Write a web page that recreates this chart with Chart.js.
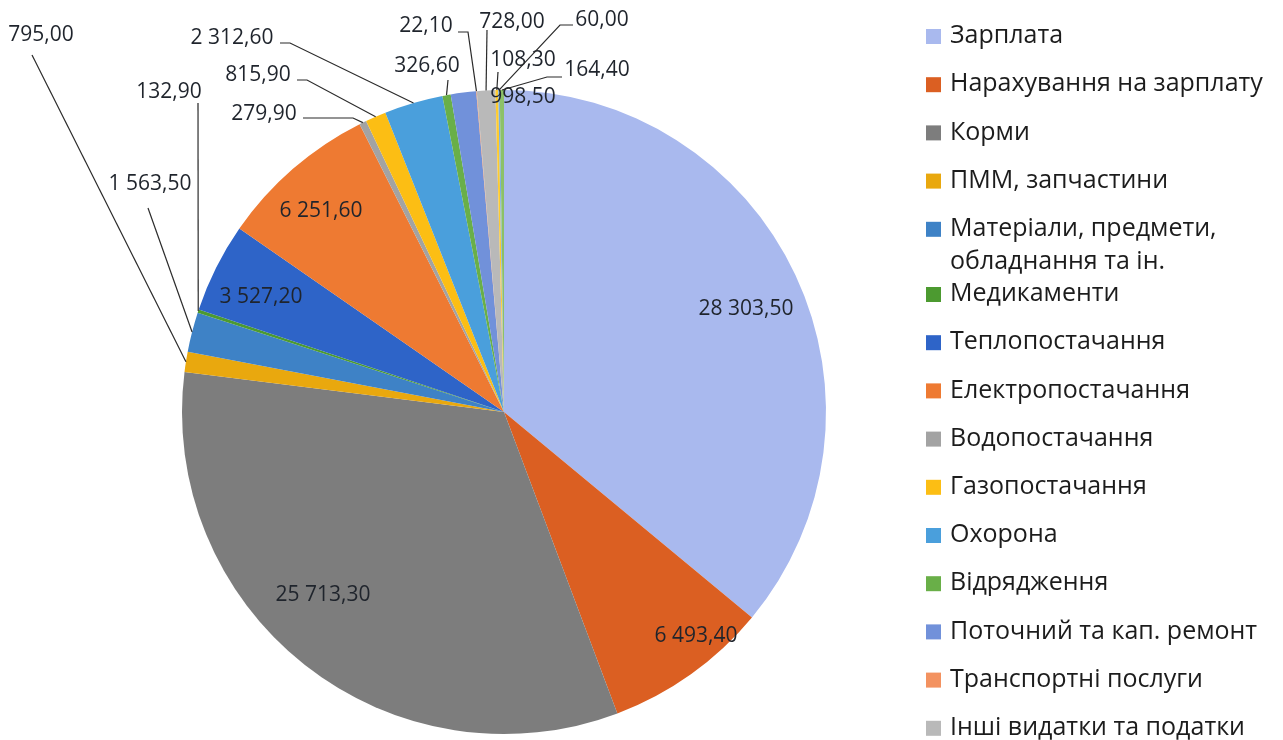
<!DOCTYPE html>
<html>
<head>
<meta charset="utf-8">
<script src="https://cdn.jsdelivr.net/npm/chart.js@4/dist/chart.umd.min.js"></script>
<style>
html,body{margin:0;padding:0;background:#fff;overflow:hidden;}
#wrap{width:1283px;height:740px;position:relative;}
</style>
</head>
<body>
<div id="wrap"><canvas id="c" width="1283" height="740"></canvas></div>
<script>
// ---- data ----
const categories = [
  'Зарплата',
  'Нарахування на зарплату',
  'Корми',
  'ПММ, запчастини',
  ['Матеріали, предмети,', 'обладнання та ін.'],
  'Медикаменти',
  'Теплопостачання',
  'Електропостачання',
  'Водопостачання',
  'Газопостачання',
  'Охорона',
  'Відрядження',
  'Поточний та кап. ремонт',
  'Транспортні послуги',
  'Інші видатки та податки',
  'Інше (16)',
  'Інше (17)',
  'Інше (18)'
];
const values = [28303.5, 6493.4, 25713.3, 795.0, 1563.5, 132.9, 3527.2, 6251.6, 279.9, 815.9, 2312.6, 326.6, 998.5, 22.1, 728.0, 108.3, 60.0, 164.4];
const colors = ['#A9B9EE', '#DB5F22', '#7D7D7D', '#E9A80E', '#3E82C6', '#4C9A30', '#2E64C8', '#EE7A32', '#A3A3A3', '#FCBE14', '#4A9FDC', '#69AF48', '#7191DA', '#F39260', '#B9B9B9', '#FFCB2E', '#7CAFDD', '#8CC168'];

// label layout: text centre offset from pie centre; optional leader start / elbow
const labelLayout = [
  {dx: 242, dy: -103},
  {dx: 192, dy: 224},
  {dx: -181, dy: 183},
  {dx: -463, dy: -377, lead: [[-472, -357]]},
  {dx: -354, dy: -228, lead: [[-356, -204]]},
  {dx: -335, dy: -320, lead: [[-306, -309]]},
  {dx: -243, dy: -115},
  {dx: -183, dy: -201},
  {dx: -240, dy: -298, lead: [[-201, -294], [-151, -294]]},
  {dx: -246, dy: -337, lead: [[-207, -332], [-197, -332]]},
  {dx: -272, dy: -374, lead: [[-224, -369], [-214, -369]]},
  {dx: -77, dy: -346, lead: [[-56, -332]]},
  {dx: 19, dy: -315},
  {dx: -78, dy: -386, lead: [[-46, -380], [-36, -380]]},
  {dx: 8, dy: -390, lead: [[-17, -382]]},
  {dx: 19, dy: -352, lead: [[-6, -340]]},
  {dx: 98, dy: -392, lead: [[69, -387], [56, -387]]},
  {dx: 93, dy: -342, lead: [[58, -335], [43, -335]]}
];

function fmt(v) {
  const parts = v.toFixed(2).split('.');
  const int = parts[0].replace(/\B(?=(\d{3})+(?!\d))/g, ' ');
  return int + ',' + parts[1];
}

const FONT = '"Open Sans", "DejaVu Sans", sans-serif';

const sliceLabels = {
  id: 'sliceLabels',
  afterDatasetsDraw(chart) {
    const ctx = chart.ctx;
    const meta = chart.getDatasetMeta(0);
    ctx.save();
    meta.data.forEach((arc, i) => {
      const p = arc.getProps(['x', 'y', 'startAngle', 'endAngle', 'outerRadius'], true);
      const L = labelLayout[i];
      if (!L) return;
      const cx = p.x, cy = p.y;
      if (L.lead) {
        const mid = (p.startAngle + p.endAngle) / 2;
        const ex = cx + Math.cos(mid) * p.outerRadius;
        const ey = cy + Math.sin(mid) * p.outerRadius;
        ctx.beginPath();
        ctx.strokeStyle = '#2b2b2b';
        ctx.lineWidth = 1.2;
        ctx.moveTo(cx + L.lead[0][0], cy + L.lead[0][1]);
        for (let k = 1; k < L.lead.length; k++) ctx.lineTo(cx + L.lead[k][0], cy + L.lead[k][1]);
        ctx.lineTo(ex, ey);
        ctx.stroke();
      }
      ctx.fillStyle = '#1f242c';
      ctx.font = '21px ' + FONT;
      ctx.textAlign = 'center';
      ctx.textBaseline = 'middle';
      ctx.fillText(fmt(values[i]), cx + L.dx, cy + L.dy);
    });
    ctx.restore();
  }
};

const sideLegend = {
  id: 'sideLegend',
  afterDraw(chart) {
    const ctx = chart.ctx;
    const items = Chart.overrides.pie.plugins.legend.labels.generateLabels(chart);
    ctx.save();
    ctx.font = '25px ' + FONT;
    ctx.textAlign = 'left';
    ctx.textBaseline = 'middle';
    let y = 36;
    items.forEach((it, i) => {
      const lines = Array.isArray(categories[i]) ? categories[i] : [categories[i]];
      ctx.fillStyle = it.fillStyle;
      ctx.fillRect(926, y - 7, 15, 15);
      ctx.fillStyle = '#1c1c1c';
      lines.forEach((ln, k) => ctx.fillText(ln, 950, y + k * 33));
      y += 48.2 + (lines.length - 1) * 17;
    });
    ctx.restore();
  }
};

new Chart(document.getElementById('c'), {
  type: 'pie',
  data: {
    labels: categories,
    datasets: [{
      data: values,
      backgroundColor: colors,
      borderWidth: 0
    }]
  },
  options: {
    responsive: false,
    animation: false,
    layout: {padding: {left: 182, right: 457, top: 90, bottom: 6}},
    plugins: {
      legend: {display: false},
      tooltip: {enabled: false}
    }
  },
  plugins: [sliceLabels, sideLegend]
});
</script>
</body>
</html>
